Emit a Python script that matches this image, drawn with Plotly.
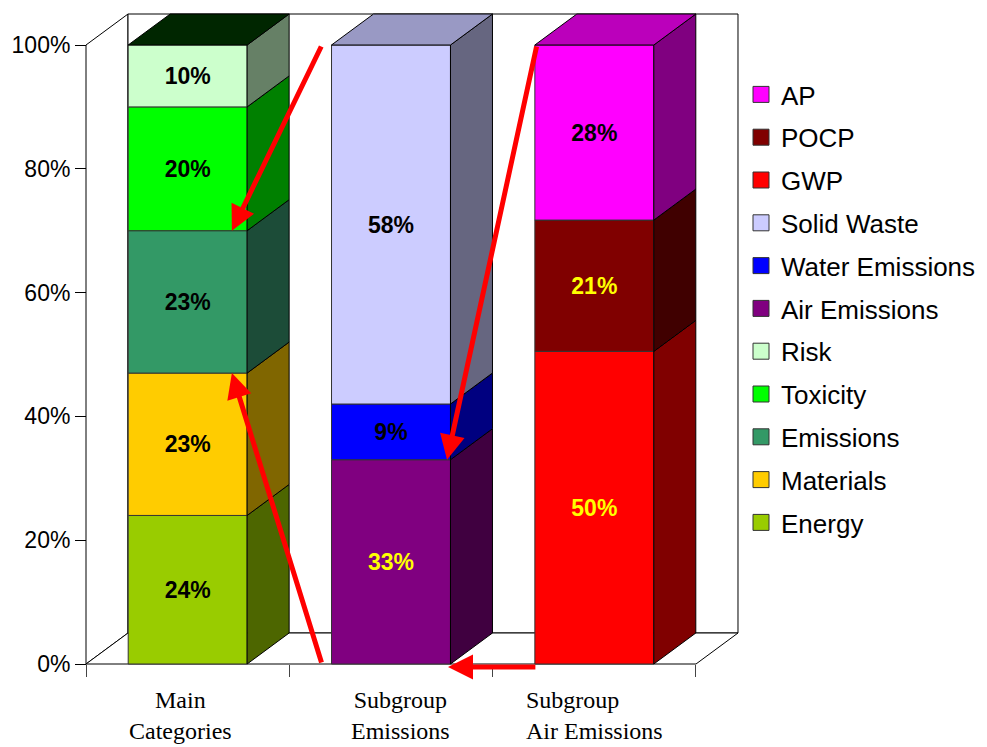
import plotly.graph_objects as go

# ---------------- data ----------------
categories = ["Main<br>Categories", "Subgroup<br>Emissions", "Subgroup<br>Air Emissions"]
main_names = ["Energy", "Materials", "Emissions", "Toxicity", "Risk"]
main_values = [24, 23, 23, 20, 10]
emis_names = ["Air Emissions", "Water Emissions", "Solid Waste"]
emis_values = [33, 9, 58]
air_names = ["GWP", "POCP", "AP"]
air_values = [50, 21, 28]
y_ticks = [0, 20, 40, 60, 80, 100]
y_tick_labels = [f"{v}%" for v in y_ticks]
legend_order = ["AP", "POCP", "GWP", "Solid Waste", "Water Emissions", "Air Emissions",
                "Risk", "Toxicity", "Emissions", "Materials", "Energy"]

# ---------------- styles ----------------
front = {"Energy": "#99CC00", "Materials": "#FFCC00", "Emissions": "#339966",
         "Toxicity": "#00FF00", "Risk": "#CCFFCC", "Air Emissions": "#800080",
         "Water Emissions": "#0000FF", "Solid Waste": "#CCCCFF", "GWP": "#FF0000",
         "POCP": "#800000", "AP": "#FF00FF"}
side = {"Energy": "#4D6600", "Materials": "#806600", "Emissions": "#1C4C38",
        "Toxicity": "#008000", "Risk": "#668066", "Air Emissions": "#400040",
        "Water Emissions": "#000080", "Solid Waste": "#666680", "GWP": "#800000",
        "POCP": "#400000", "AP": "#800080"}
top_col = ["#002600", "#9999C4", "#BB00BB"]
yellow_labels = {"Air Emissions", "POCP", "GWP"}

# geometry (pixels of the target layout)
W, H = 987, 747
SX = 203.33            # px per category slot
SY = 6.19              # px per percent
X0PX, Y0PX = 86, 664   # pixel of (0, 0%)
L, R, T, B = 60, 0, 8, 57
FW = 0.585             # front face width (slots)
DX = 42 / SX           # depth offset x
DY = 31 / SY           # depth offset y (percent)

xmin = -(X0PX - L) / SX
xmax = xmin + (W - L - R) / SX
ymax = (Y0PX - T) / SY
ymin = -((H - B) - Y0PX) / SY

fig = go.Figure()

groups = [(main_names, main_values), (emis_names, emis_values), (air_names, air_values)]
tops = []
for gi, (names, vals) in enumerate(groups):
    total = sum(vals)
    center = gi + 0.5
    x0, x1 = center - FW / 2, center + FW / 2
    cum = 0.0
    bounds = [0.0]
    for name, v in zip(names, vals):
        h = v / total * 100
        fig.add_trace(go.Bar(
            x=[center], y=[h], base=[cum], width=FW,
            marker=dict(color=front[name], line=dict(color="#333333", width=1)),
            text=[f"{v}%"], textposition="inside", insidetextanchor="middle",
            textangle=0,
            textfont=dict(family="Liberation Sans", size=23, weight="bold",
                          color="#FFFF00" if name in yellow_labels else "#000000"),
            showlegend=False, hoverinfo="skip"))
        fig.add_trace(go.Scatter(
            x=[x1, x1 + DX, x1 + DX, x1, x1],
            y=[cum, cum + DY, cum + h + DY, cum + h, cum],
            mode="lines", fill="toself", fillcolor=side[name],
            line=dict(color="#000000", width=1),
            showlegend=False, hoverinfo="skip"))
        cum += h
        bounds.append(cum)
    fig.add_trace(go.Scatter(
        x=[x0, x0 + DX, x1 + DX, x1, x0],
        y=[cum, cum + DY, cum + DY, cum, cum],
        mode="lines", fill="toself", fillcolor=top_col[gi],
        line=dict(color="#000000", width=1),
        showlegend=False, hoverinfo="skip"))
    tops.append((x0, x1, bounds))

# legend entries
for name in legend_order:
    fig.add_trace(go.Scatter(
        x=[None], y=[None], mode="markers", name=name, legendgroup=name,
        marker=dict(symbol="square", size=16, color=front[name],
                    line=dict(color="#333333", width=1))))

# walls and floor
n = len(categories)
wall = dict(type="path", xref="x", yref="y", layer="below",
            line=dict(color="#000000", width=1), fillcolor="white")
fig.add_shape(**wall, path=f"M0,0 L0,100 L{DX},{100+DY} L{DX},{DY} Z")
fig.add_shape(**wall, path=f"M{DX},{DY} L{DX},{100+DY} L{n+DX},{100+DY} L{n+DX},{DY} Z")
fig.add_shape(**wall, path=f"M0,0 L{DX},{DY} L{n+DX},{DY} L{n},0 Z")

# category labels
lab_x = [(180 - X0PX) / SX, (400 - X0PX) / SX, (524 - X0PX) / SX]
anchors = ["center", "center", "left"]
lab_y = ((H - B) - 685) / (H - T - B)
for cx, txt, anc in zip(lab_x, categories, anchors):
    fig.add_annotation(x=cx, y=lab_y, xref="x", yref="paper", text=txt,
                       showarrow=False, xanchor=anc, yanchor="top", align=anc,
                       font=dict(family="Liberation Serif", size=24, color="#000000"))

# red arrows (derived from segment boundaries)
m_x0, m_x1, m_b = tops[0]
e_x0, e_x1, e_b = tops[1]
a_x0, a_x1, a_b = tops[2]
arrow = dict(xref="x", yref="y", axref="x", ayref="y", text="", showarrow=True,
             arrowhead=2, arrowsize=1, arrowwidth=5, arrowcolor="#FF0000", standoff=0)
fig.add_annotation(**arrow, x=m_x1 - 0.075, y=m_b[3], ax=e_x0 - 0.047, ay=100)
fig.add_annotation(**arrow, x=m_x1 - 0.075, y=m_b[2], ax=e_x0 - 0.047, ay=0)
fig.add_annotation(**arrow, x=e_x1 - 0.017, y=e_b[1], ax=a_x0 + 0.01, ay=100)
fig.add_annotation(**arrow, x=e_x1 - 0.012, y=-0.5, ax=a_x0 + 0.01, ay=-0.5)

fig.update_layout(
    width=W, height=H, margin=dict(l=L, r=R, t=T, b=B, autoexpand=False),
    plot_bgcolor="white", paper_bgcolor="white",
    barmode="overlay",
    xaxis=dict(range=[xmin, xmax], showgrid=False, zeroline=False, showline=False,
               showticklabels=False, ticks="outside", tickvals=list(range(n + 1)),
               ticklen=12, tickcolor="#444444", anchor="free",
               position=((H - B) - Y0PX) / (H - T - B)),
    yaxis=dict(range=[ymin, ymax], showgrid=False, zeroline=False, showline=False,
               tickmode="array", tickvals=y_ticks, ticktext=y_tick_labels,
               ticks="outside", ticklen=11,
               tickcolor="#000000", anchor="free",
               position=(X0PX - L) / (W - L - R),
               tickfont=dict(family="Liberation Sans", size=23, color="#000000")),
    legend=dict(x=(741 - L) / (W - L - R), y=1 - (71 - T) / (H - T - B),
                xanchor="left", yanchor="top", traceorder="grouped",
                tracegroupgap=6, bgcolor="rgba(0,0,0,0)",
                font=dict(family="Liberation Sans", size=26, color="#000000")),
    showlegend=True,
)

fig.write_html("out.html")
